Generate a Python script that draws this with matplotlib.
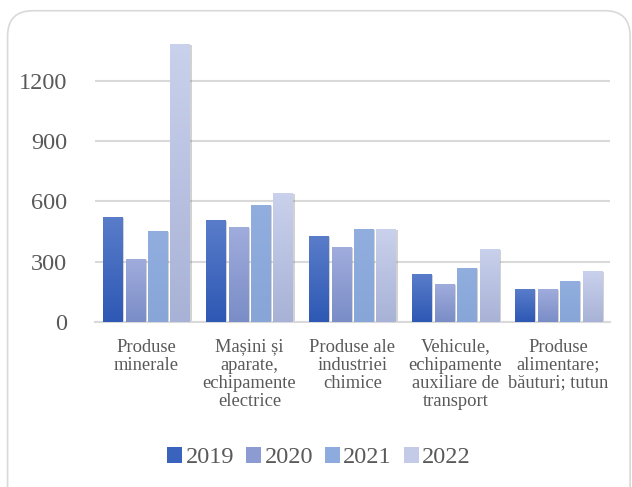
import numpy as np
import matplotlib.pyplot as plt
import matplotlib.transforms as mtransforms
from matplotlib.colors import LinearSegmentedColormap
from matplotlib.patches import FancyBboxPatch

plt.rcParams['font.family'] = ['Liberation Serif', 'DejaVu Serif']

# Categories and values
categories = ['Produse\nminerale', 'Mașini și\naparate,\nechipamente\nelectrice',
              'Produse ale\nindustriei\nchimice', 'Vehicule,\nechipamente\nauxiliare de\ntransport',
              'Produse\nalimentare;\nbăuturi; tutun']
years = ['2019', '2020', '2021', '2022']
v2019 = [525, 510, 428, 239, 164]
v2020 = [312, 473, 373, 189, 164]
v2021 = [452, 584, 462, 269, 204]
v2022 = [1385, 642, 463, 364, 254]
yticks = [0, 300, 600, 900, 1200]

series = [v2019, v2020, v2021, v2022]
# (top colour, bottom colour) of each series gradient
grads = [('#5a7dca', '#2d58b4'), ('#a0acdc', '#7a8dc7'),
         ('#91aedf', '#88a5d8'), ('#c9d1ec', '#a8b2d6')]
legend_colors = ['#3a63bd', '#8c9cd3', '#8eabdd', '#c3cbe8']

fig = plt.figure(figsize=(6.32, 4.87), dpi=100)
ax = fig.add_axes([0.150, 0.339, 0.815, 0.577])

# rounded border round the whole chart
border = FancyBboxPatch((0.012, -0.05), 0.985, 1.028, boxstyle='round,pad=0,rounding_size=0.04',
                        transform=fig.transFigure, fill=False, edgecolor='#d9d9d9', linewidth=1.2,
                        mutation_aspect=632 / 487)
fig.patches.append(border)

x = np.arange(len(categories))
step = 0.218
width = 0.185
grad = np.linspace(1, 0, 256).reshape(-1, 1)

handles = []
for i, vals in enumerate(series):
    pos = x + (i - 1.5) * step
    # soft shadow
    shadow_tr = mtransforms.offset_copy(ax.transData, fig=fig, x=2, y=-1, units='dots')
    ax.bar(pos, vals, width, color='#808080', alpha=0.35, transform=shadow_tr, zorder=2)
    bars = ax.bar(pos, vals, width, color=legend_colors[i], label=years[i], zorder=3)
    handles.append(bars)
    cmap = LinearSegmentedColormap.from_list('g%d' % i, [grads[i][1], grads[i][0]])
    for b in bars:
        bx, by = b.get_x(), b.get_y()
        im = ax.imshow(grad, extent=[bx, bx + b.get_width(), by, by + b.get_height()],
                       cmap=cmap, aspect='auto', origin='upper', zorder=4)
        im.set_clip_path(b)

ax.set_xlim(-0.5, len(categories) - 0.5)
ax.set_ylim(0, 1400)
ax.set_yticks(yticks)
ax.set_xticks(x)
ax.set_xticklabels(categories, fontsize=13.3, color='#595959', linespacing=1.08, va='top')
ax.tick_params(axis='y', labelsize=17.5, colors='#595959', length=0, pad=20)
ax.tick_params(axis='x', length=0, pad=12)
ax.grid(axis='y', color='#d9d9d9', linewidth=1.5, zorder=0)
ax.set_axisbelow(True)
for s in ['top', 'right', 'left']:
    ax.spines[s].set_visible(False)
ax.spines['bottom'].set_color('#d9d9d9')
ax.spines['bottom'].set_linewidth(1.5)

fig.legend(handles=handles, labels=years, loc='center', bbox_to_anchor=(0.505, 0.06), ncol=4,
           frameon=False, prop={'family': 'Liberation Serif', 'size': 17.5}, labelcolor='#595959',
           handlelength=0.6, handleheight=0.6, handletextpad=0.15, columnspacing=0.5)

fig.savefig('out.png', dpi=100)
